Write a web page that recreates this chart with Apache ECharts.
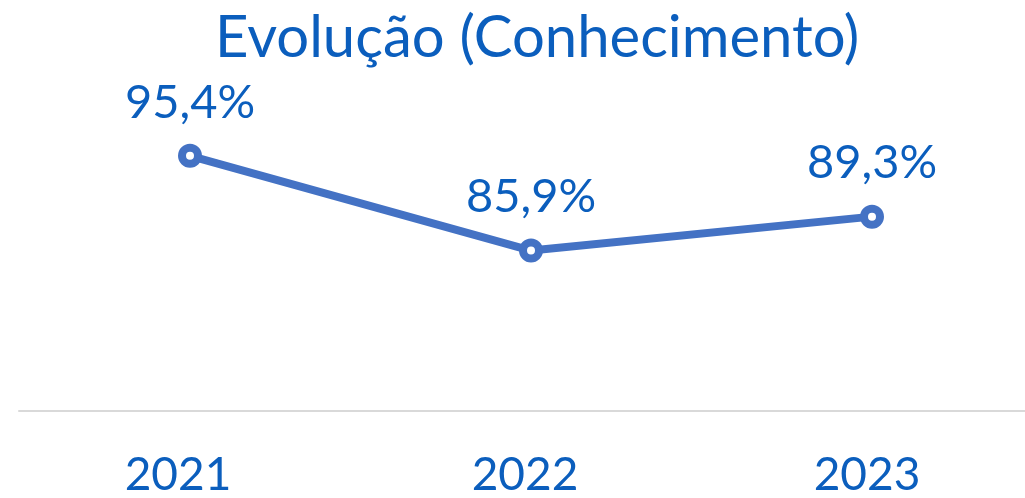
<!DOCTYPE html>
<html>
<head>
<meta charset="utf-8">
<script src="https://cdn.jsdelivr.net/npm/echarts@6/dist/echarts.min.js"></script>
<style>
  html, body { margin: 0; padding: 0; background: #fff; }
  #chart { width: 1025px; height: 498px; }
</style>
</head>
<body>
<div id="chart"></div>
<script>
var anos = ['2021', '2022', '2023'];
var conhecimento = [95.4, 85.9, 89.3];

var azulTexto = '#0b5ebd';
var azulLinha = '#4472c4';

// small per-label nudges so the year labels sit like the original
var anoRich = {
  a0: { fontFamily: 'Lato', fontSize: 46, lineHeight: 46, color: azulTexto, padding: [0, 24, 0, 0] },
  a1: { fontFamily: 'Lato', fontSize: 46, lineHeight: 46, color: azulTexto, padding: [0, 12, 0, 0] },
  a2: { fontFamily: 'Lato', fontSize: 46, lineHeight: 46, color: azulTexto, padding: [0, 10, 0, 0] }
};

var chart = echarts.init(document.getElementById('chart'));
chart.setOption({
  animation: false,
  title: {
    text: 'Evolução (Conhecimento)',
    left: 210,
    top: 4,
    textStyle: { fontFamily: 'Lato', fontWeight: 'normal', fontSize: 58, color: azulTexto }
  },
  grid: [
    { left: 190, right: 153, top: 110, bottom: 84 },
    { left: 19, right: 0, top: 108, bottom: 87 }
  ],
  xAxis: [{
    type: 'category',
    gridIndex: 0,
    data: anos,
    boundaryGap: false,
    axisLine: { show: false },
    axisTick: { show: false },
    axisLabel: {
      margin: 43,
      formatter: function (v, i) { return '{a' + i + '|' + v + '}'; },
      rich: anoRich
    }
  }, {
    type: 'category',
    gridIndex: 1,
    data: anos,
    axisLine: { lineStyle: { color: '#d9d9d9', width: 2 } },
    axisTick: { show: false },
    axisLabel: { show: false }
  }],
  yAxis: [{
    type: 'value',
    gridIndex: 0,
    min: 70,
    max: 100,
    show: false
  }, {
    type: 'value',
    gridIndex: 1,
    show: false
  }],
  series: [{
    type: 'line',
    data: conhecimento,
    symbol: 'circle',
    symbolSize: 16,
    lineStyle: { color: azulLinha, width: 8 },
    itemStyle: { color: '#fff', borderColor: azulLinha, borderWidth: 8 },
    label: {
      show: true,
      position: 'top',
      distance: 18,
      fontFamily: 'Lato',
      fontSize: 47,
      color: azulTexto,
      formatter: function (p) { return p.value.toFixed(1).replace('.', ',') + '%'; }
    }
  }]
});
</script>
</body>
</html>
